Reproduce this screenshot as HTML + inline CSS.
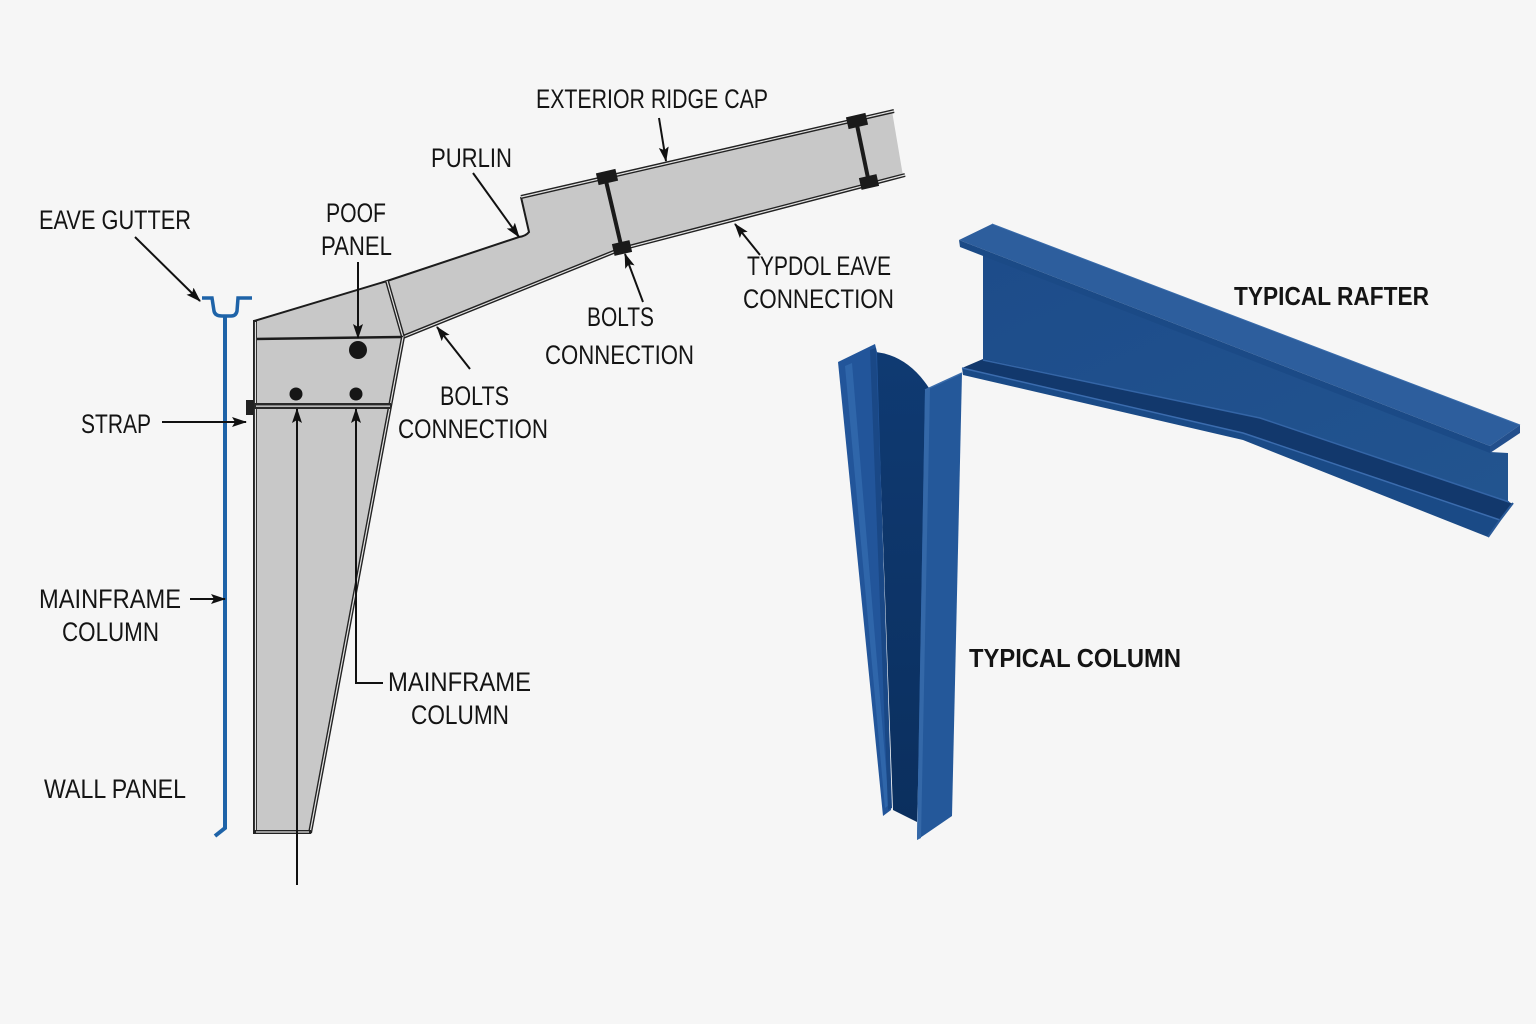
<!DOCTYPE html>
<html>
<head>
<meta charset="utf-8">
<style>
  html,body{margin:0;padding:0;background:#f6f6f6;}
  svg{display:block;}
  .t{font-family:"Liberation Sans",sans-serif;font-size:27px;fill:#141414;}
  .b{font-family:"Liberation Sans",sans-serif;font-size:26px;font-weight:bold;fill:#141414;}
</style>
</head>
<body>
<svg width="1536" height="1024" viewBox="0 0 1536 1024" xmlns="http://www.w3.org/2000/svg">
  <defs>
    <marker id="ah" markerUnits="userSpaceOnUse" markerWidth="16" markerHeight="12" refX="14" refY="5" orient="auto">
      <path d="M0,0 L15,5 L0,10 L3,5 Z" fill="#111"/>
    </marker>
    <linearGradient id="webg" x1="0" y1="0" x2="1" y2="1">
      <stop offset="0" stop-color="#1d4c8a"/>
      <stop offset="1" stop-color="#22548f"/>
    </linearGradient>
    <linearGradient id="colweb" x1="0" y1="0" x2="0" y2="1">
      <stop offset="0" stop-color="#0f3a72"/>
      <stop offset="1" stop-color="#0b2f5e"/>
    </linearGradient>
  </defs>

  <rect width="1536" height="1024" fill="#f6f6f6"/>

  <!-- ============ GRAY FRAME ============ -->
  <path d="M254,320 L387,281 L519,237 Q526,236 529,232 L521,197 L892,111 L903,176 L621,249 L403,337 L310,832 L254,832 Z" fill="#c8c8c8"/>

  <!-- top edge left (single) -->
  <path d="M254,321 L387,281 L519,237 Q526,236 529,232 L521,197" fill="none" stroke="#1c1c1c" stroke-width="2"/>
  <!-- top edge right (double) -->
  <path d="M521,197 L894,111" fill="none" stroke="#222" stroke-width="4"/>
  <path d="M521,197 L894,111" fill="none" stroke="#e2e2e2" stroke-width="1.2"/>
  <!-- bottom edge (double) -->
  <path d="M905,175 L621,249 L403,337" fill="none" stroke="#222" stroke-width="4"/>
  <path d="M905,175 L621,249 L403,337" fill="none" stroke="#e2e2e2" stroke-width="1.2"/>
  <!-- haunch divider (double) -->
  <path d="M387,281 L403,337" fill="none" stroke="#222" stroke-width="4"/>
  <path d="M387,281 L403,337" fill="none" stroke="#e2e2e2" stroke-width="1.2"/>
  <!-- horizontal line -->
  <path d="M254,339 L403,337" fill="none" stroke="#1c1c1c" stroke-width="2.5"/>
  <!-- column right edge (double) -->
  <path d="M403,337 L310,833" fill="none" stroke="#222" stroke-width="4"/>
  <path d="M403,337 L310,833" fill="none" stroke="#e2e2e2" stroke-width="1.2"/>
  <!-- column left edge (double) -->
  <path d="M255,320 V833" fill="none" stroke="#222" stroke-width="4"/>
  <path d="M255.5,322 V831" fill="none" stroke="#e2e2e2" stroke-width="1.2"/>
  <!-- column bottom (double) -->
  <path d="M253,832 H311" fill="none" stroke="#222" stroke-width="4"/>
  <path d="M256,832 H309" fill="none" stroke="#e2e2e2" stroke-width="1.2"/>

  <!-- band -->
  <rect x="254" y="403" width="137" height="6" fill="#2a2a2a"/>
  <rect x="256" y="405.5" width="134" height="1.3" fill="#dcdcdc"/>
  <!-- strap tab -->
  <rect x="246" y="400" width="7" height="15" fill="#222"/>

  <!-- bolts -->
  <circle cx="358" cy="350" r="9" fill="#161616"/>
  <circle cx="296" cy="394" r="6.5" fill="#161616"/>
  <circle cx="356" cy="394" r="6.5" fill="#161616"/>

  <!-- bolt plates -->
  <g fill="#1a1a1a">
    <rect x="-10" y="-6" width="20" height="12" transform="translate(607,177) rotate(-13)"/>
    <rect x="-9" y="-6" width="18" height="12" transform="translate(622,248) rotate(-13)"/>
    <rect x="-10" y="-6" width="20" height="12" transform="translate(857,121) rotate(-13)"/>
    <rect x="-9" y="-6" width="18" height="12" transform="translate(869,182) rotate(-13)"/>
  </g>
  <path d="M606,181 L621,245" stroke="#1a1a1a" stroke-width="4"/>
  <path d="M857,125 L868,178" stroke="#1a1a1a" stroke-width="4"/>

  <!-- ============ BLUE WALL PANEL / GUTTER ============ -->
  <path d="M202,298 H212 L214,311 Q215,316 222,316 H231 Q236,316 237,311 L238,298 H252" fill="none" stroke="#1e63a8" stroke-width="3.5"/>
  <path d="M225,316 V828 L215,836" fill="none" stroke="#1e63a8" stroke-width="4"/>

  <!-- ============ ARROWS ============ -->
  <g stroke="#111" stroke-width="2" fill="none" marker-end="url(#ah)">
    <line x1="135" y1="237" x2="200" y2="301"/>
    <line x1="358" y1="262" x2="358" y2="338"/>
    <line x1="473" y1="173" x2="519" y2="237"/>
    <line x1="659" y1="118" x2="666" y2="161"/>
    <line x1="643" y1="302" x2="625" y2="254"/>
    <line x1="760" y1="255" x2="735" y2="224"/>
    <line x1="470" y1="369" x2="437" y2="327"/>
    <line x1="162" y1="422" x2="246" y2="422"/>
    <line x1="190" y1="599" x2="225" y2="599"/>
    <line x1="297" y1="885" x2="297" y2="409"/>
    <polyline points="383,683 356,683 356,409"/>
  </g>

  <!-- ============ TYPICAL RAFTER (blue) ============ -->
  <!-- web -->
  <path d="M983,253 L1490,452 L1508,453 L1508,502 L1260,418 L983,360 Z" fill="url(#webg)"/>
  <!-- bottom flange top surface (dark) -->
  <path d="M983,359 L1260,418 L1509,502 L1513,504 L1500,520 L1243,433 L962,368 Z" fill="#12386c"/>
  <!-- bottom flange front face -->
  <path d="M962,368 L1243,433 L1500,520 L1488,537 L1243,440 L963,375 Z" fill="#1a4a86"/>
  <path d="M962,368 L1243,433 L1500,520" fill="none" stroke="#3b6cae" stroke-width="1.5"/>
  <path d="M983,360 L1260,418 L1509,502" fill="none" stroke="#3465a6" stroke-width="1.5"/>
  <path d="M1513,503 L1500,520 L1488,537" fill="none" stroke="#2a5a98" stroke-width="2"/>
  <!-- top flange top surface -->
  <path d="M992,224 L1520,425 L1490,446 L959,240 Z" fill="#2d5e9d"/>
  <!-- top flange front face -->
  <path d="M959,240 L1490,446 L1490,453 L960,247 Z" fill="#1b4a86"/>
  <path d="M1490,446 L1520,425 L1520,433 L1490,453 Z" fill="#234f8c"/>
  <path d="M992,224 L1520,425" fill="none" stroke="#3a6cab" stroke-width="1"/>

  <!-- ============ TYPICAL COLUMN (blue) ============ -->
  <!-- web (dark, recessed) -->
  <path d="M876,352 Q908,356 929,388 L917,822 L893,810 Z" fill="url(#colweb)"/>
  <!-- left flange -->
  <path d="M838,362 L875,344 L877,352 L891,810 L883,816 Z" fill="#22559a"/>
  <path d="M845,366 L852,363 L889,805 L885,808 Z" fill="#2f66aa"/>
  <path d="M870,350 L876,348 L892,808 L888,810 Z" fill="#1a4886"/>
  <!-- right flange front -->
  <path d="M925,390 L962,373 L952,816 L917,840 Z" fill="#24589a"/>
  <path d="M925,390 L930,388 L921,838 L917,840 Z" fill="#3468a8"/>
  <path d="M925,390 L962,373" fill="none" stroke="#3a6cab" stroke-width="1.5"/>

  <!-- ============ LABELS ============ -->
  <text class="t" x="536" y="108" textLength="232" lengthAdjust="spacingAndGlyphs">EXTERIOR RIDGE CAP</text>
  <text class="t" x="431" y="167" textLength="81" lengthAdjust="spacingAndGlyphs">PURLIN</text>
  <text class="t" x="39" y="229" textLength="152" lengthAdjust="spacingAndGlyphs">EAVE GUTTER</text>
  <text class="t" x="326" y="222" textLength="60" lengthAdjust="spacingAndGlyphs">POOF</text>
  <text class="t" x="321" y="255" textLength="71" lengthAdjust="spacingAndGlyphs">PANEL</text>
  <text class="t" x="747" y="275" textLength="144" lengthAdjust="spacingAndGlyphs">TYPDOL EAVE</text>
  <text class="t" x="743" y="308" textLength="151" lengthAdjust="spacingAndGlyphs">CONNECTION</text>
  <text class="t" x="587" y="326" textLength="67" lengthAdjust="spacingAndGlyphs">BOLTS</text>
  <text class="t" x="545" y="364" textLength="149" lengthAdjust="spacingAndGlyphs">CONNECTION</text>
  <text class="t" x="440" y="405" textLength="69" lengthAdjust="spacingAndGlyphs">BOLTS</text>
  <text class="t" x="398" y="438" textLength="150" lengthAdjust="spacingAndGlyphs">CONNECTION</text>
  <text class="t" x="81" y="433" textLength="70" lengthAdjust="spacingAndGlyphs">STRAP</text>
  <text class="t" x="39" y="608" textLength="142" lengthAdjust="spacingAndGlyphs">MAINFRAME</text>
  <text class="t" x="62" y="641" textLength="97" lengthAdjust="spacingAndGlyphs">COLUMN</text>
  <text class="t" x="388" y="691" textLength="143" lengthAdjust="spacingAndGlyphs">MAINFRAME</text>
  <text class="t" x="411" y="724" textLength="98" lengthAdjust="spacingAndGlyphs">COLUMN</text>
  <text class="t" x="44" y="798" textLength="142" lengthAdjust="spacingAndGlyphs">WALL PANEL</text>
  <text class="b" x="1234" y="305" textLength="195" lengthAdjust="spacingAndGlyphs">TYPICAL RAFTER</text>
  <text class="b" x="969" y="667" textLength="212" lengthAdjust="spacingAndGlyphs">TYPICAL COLUMN</text>
</svg>
</body>
</html>
